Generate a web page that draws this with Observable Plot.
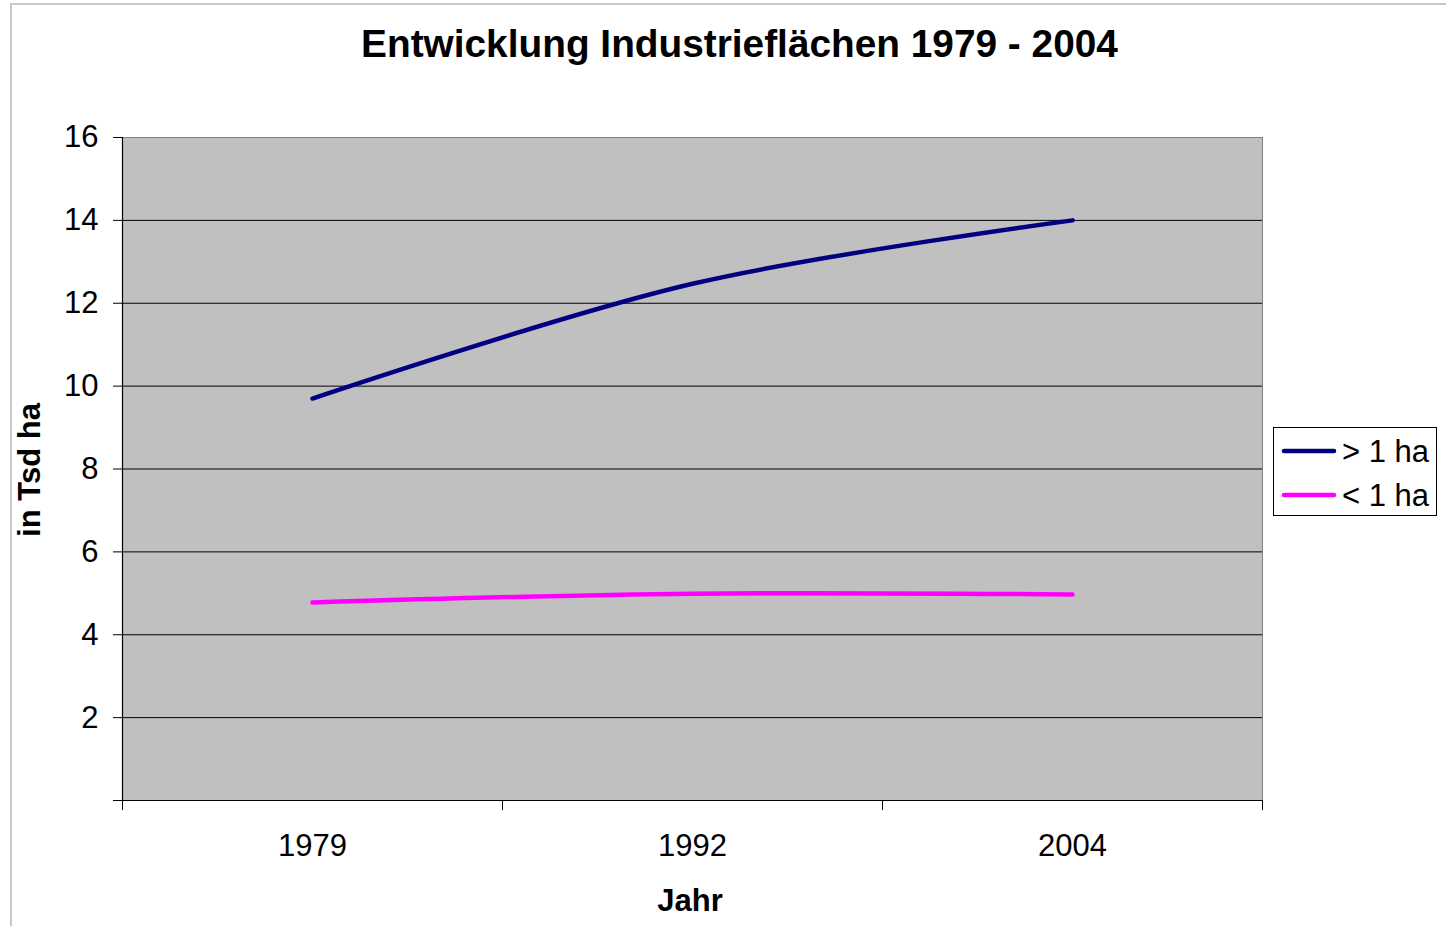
<!DOCTYPE html>
<html>
<head>
<meta charset="utf-8">
<script src="https://cdn.jsdelivr.net/npm/d3@7"></script>
<script src="https://cdn.jsdelivr.net/npm/@observablehq/plot@0.6"></script>
<style>
  html, body { margin: 0; padding: 0; background: #fff; }
  #wrap { position: relative; width: 1446px; height: 926px; overflow: hidden; font-family: "Liberation Sans", Arial, sans-serif; }
  #wrap > svg { position: absolute; left: 0; top: 0; }
  #border { position: absolute; left: 10px; top: 3px; width: 1500px; height: 1000px; border-top: 2px solid #c8c8c8; border-left: 2px solid #c8c8c8; }
</style>
</head>
<body>
<div id="wrap"><div id="border"></div></div>
<script>
// ---- data ----
const years = ["1979", "1992", "2004"];
const seriesNames = ["> 1 ha", "< 1 ha"];
const seriesColors = ["#000080", "#ff00ff"];
const over1ha = [9.7, 12.47, 14.0];
const under1ha = [4.78, 4.99, 4.97];
const yTicks = [0, 2, 4, 6, 8, 10, 12, 14, 16];
const gridValues = [2, 4, 6, 8, 10, 12, 14];
const titleText = "Entwicklung Industrieflächen 1979 - 2004";
const xLabel = "Jahr";
const yLabel = "in Tsd ha";

const rows = [];
years.forEach((y, i) => {
  rows.push({i, series: seriesNames[0], v: over1ha[i]});
  rows.push({i, series: seriesNames[1], v: under1ha[i]});
});
const xDomain = [-0.5, years.length - 0.5];
const boundaries = d3.range(years.length + 1).map(k => k - 0.5);

const chart = Plot.plot({
  width: 1446,
  height: 926,
  marginLeft: 122,
  marginRight: 184,
  marginTop: 137,
  marginBottom: 126,
  style: {fontFamily: "'Liberation Sans', Arial, sans-serif", fontSize: "31px", background: "transparent", color: "#000", overflow: "visible"},
  x: {type: "linear", domain: xDomain},
  y: {domain: [0, 16]},
  color: {domain: seriesNames, range: seriesColors},
  marks: [
    Plot.frame({fill: "#c0c0c0", stroke: "#808080", strokeWidth: 1}),
    Plot.ruleY(gridValues, {stroke: "#000", strokeWidth: 1}),
    Plot.ruleX([xDomain[0]], {stroke: "#000", strokeWidth: 1.2}),
    Plot.ruleY([0], {stroke: "#000", strokeWidth: 1.2}),
    Plot.axisY(yTicks, {tickSize: 9, tickPadding: 15, tickFormat: d => d === 0 ? "" : d, label: null, fontSize: 31, stroke: "#000"}),
    Plot.axisX(years.map((_, i) => i), {tickSize: 0, tickPadding: 33, tickFormat: i => years[i], label: null, fontSize: 31}),
    Plot.axisX(boundaries, {tickSize: 10, tickFormat: () => "", label: null, stroke: "#000"}),
    Plot.lineY(rows, {x: "i", y: "v", z: "series", stroke: "series", curve: "catmull-rom", strokeWidth: 4.5})
  ]
});
const wrap = document.getElementById("wrap");
wrap.appendChild(chart);

// ---- overlay texts: title, axis titles, legend ----
const ov = d3.select(wrap).append("svg")
  .attr("width", 1446).attr("height", 926)
  .style("font-family", "'Liberation Sans', Arial, sans-serif");

ov.append("text").attr("x", 739.5).attr("y", 57).attr("text-anchor", "middle")
  .attr("font-size", 38.8).attr("font-weight", "bold").text(titleText);

ov.append("text").attr("x", 690).attr("y", 911).attr("text-anchor", "middle")
  .attr("font-size", 31).attr("font-weight", "bold").text(xLabel);

ov.append("text").attr("transform", "translate(40,470) rotate(-90)").attr("text-anchor", "middle")
  .attr("font-size", 31).attr("font-weight", "bold").text(yLabel);

const lg = ov.append("g");
lg.append("rect").attr("x", 1273.5).attr("y", 427.5).attr("width", 163).attr("height", 88)
  .attr("fill", "#fff").attr("stroke", "#000").attr("stroke-width", 1);
seriesNames.forEach((name, k) => {
  const cy = 451 + k * 44;
  lg.append("line").attr("x1", 1284).attr("x2", 1334).attr("y1", cy).attr("y2", cy)
    .attr("stroke", seriesColors[k]).attr("stroke-width", 4.5).attr("stroke-linecap", "round");
  lg.append("text").attr("x", 1342).attr("y", cy + 11).attr("font-size", 31).text(name);
});
</script>
</body>
</html>
